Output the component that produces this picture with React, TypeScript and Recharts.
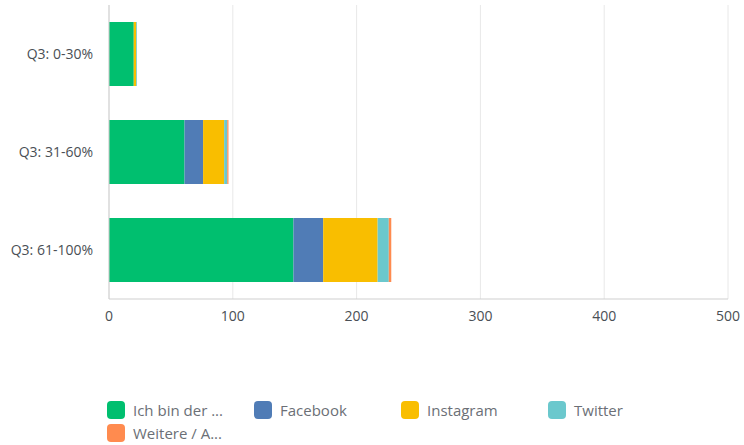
import React from 'react';
import { BarChart, Bar, XAxis, YAxis, CartesianGrid, Legend } from 'recharts';

const categories = ['Q3: 0-30%', 'Q3: 31-60%', 'Q3: 61-100%'];
const seriesNames = ['Ich bin der ...', 'Facebook', 'Instagram', 'Twitter', 'Weitere / A...'];
const seriesColors = ['#00BF6F', '#507CB6', '#F9BE00', '#6BC8CD', '#FF8B4F'];
const ichBinDer = [20, 61, 149];
const facebook = [0, 15, 24];
const instagram = [2, 17, 44];
const twitter = [0.6, 2.5, 9];
const weitere = [0, 1, 2];
const xTicks = [0, 100, 200, 300, 400, 500];

const seriesValues = [ichBinDer, facebook, instagram, twitter, weitere];
const data = categories.map((c, i) => {
  const row: any = { name: c };
  seriesNames.forEach((s, k) => {
    row['s' + k] = seriesValues[k][i];
  });
  return row;
});

const FONT = '"Open Sans", "Noto Sans", sans-serif';

const renderLegend = () => (
  <div style={{ display: 'flex', flexWrap: 'wrap', width: 600, fontFamily: FONT }}>
    {seriesNames.map((n, k) => (
      <div key={n} style={{ display: 'flex', alignItems: 'center', width: 147, height: 23 }}>
        <div style={{ width: 18, height: 18, borderRadius: 4, background: seriesColors[k], marginRight: 8 }} />
        <span style={{ fontSize: 15, color: '#6b6f76' }}>{n}</span>
      </div>
    ))}
  </div>
);

export default function App() {
  return (
    <div style={{ position: 'absolute', left: 0, top: 0, width: 744, height: 445, background: '#fff' }}>
      <BarChart
        width={744}
        height={445}
        data={data}
        layout="vertical"
        margin={{ top: 5, right: 16, bottom: 0, left: 0 }}
      >
        <CartesianGrid horizontal={false} stroke="#e8e8e8" />
        <XAxis
          type="number"
          domain={[0, 500]}
          ticks={xTicks}
          tickLine={false}
          axisLine={{ stroke: '#cfcfcf' }}
          tick={{ fill: '#4a4f55', fontSize: 14, fontFamily: FONT }}
          tickMargin={6}
          height={43}
        />
        <YAxis
          type="category"
          dataKey="name"
          width={109}
          tickLine={false}
          axisLine={{ stroke: '#cfcfcf' }}
          tick={{ fill: '#4a4f55', fontSize: 14, fontFamily: FONT }}
          tickMargin={10}
        />
        <Legend
          verticalAlign="bottom"
          align="left"
          content={renderLegend}
          wrapperStyle={{ left: 107, top: 398, height: 103 }}
        />
        {seriesNames.map((n, k) => (
          <Bar key={n} dataKey={'s' + k} name={n} stackId="a" fill={seriesColors[k]} barSize={64} isAnimationActive={false} />
        ))}
      </BarChart>
    </div>
  );
}
